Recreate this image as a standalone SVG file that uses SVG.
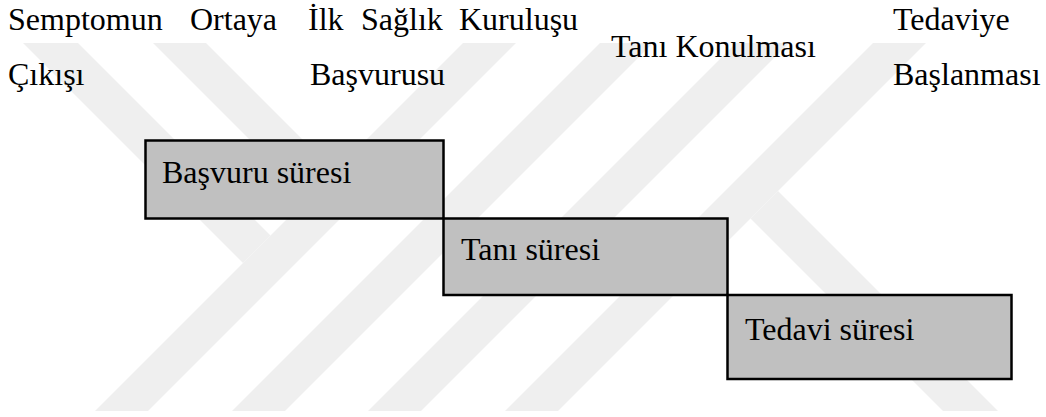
<svg xmlns="http://www.w3.org/2000/svg" width="1046" height="417" viewBox="0 0 1046 417">
<style>
.t{font-family:"Liberation Serif","Times New Roman",serif;font-size:32px;fill:#000}
.box{fill:#c0c0c0;stroke:#000;stroke-width:2.5}
.wm{fill:#efefef}
</style>
<rect width="1046" height="417" fill="#fff"/>
<g id="watermark">
<polygon class="wm" points="95,411 148,411 516,43 463,43"/>
<polygon class="wm" points="232,411 285,411 653,43 600,43"/>
<polygon class="wm" points="368,411 421,411 789,43 736,43"/>
<polygon class="wm" points="505,411 558,411 926,43 873,43"/>
<polygon class="wm" points="23,43 78,43 270.5,235.5 243,263"/>
<polygon class="wm" points="153,43 206,43 334.5,171.5 308,198"/>
<polygon class="wm" points="750.5,218.5 778,191 998,411 943,411"/>
</g>
<g id="connectors"></g>
<g font-family="Liberation Serif, Times New Roman, serif">
<g id="event-semptom">
<text class="t" x="8" y="30">Semptomun</text>
<text class="t" x="190" y="30">Ortaya</text>
<text class="t" x="8" y="85">Çıkışı</text>
</g>
<g id="event-basvuru">
<text class="t" x="308" y="30">İlk</text>
<text class="t" x="361" y="30">Sağlık</text>
<text class="t" x="459" y="30">Kuruluşu</text>
<text class="t" x="310" y="85">Başvurusu</text>
</g>
<g id="event-tani">
<text class="t" x="611" y="57">Tanı Konulması</text>
</g>
<g id="event-tedavi">
<text class="t" x="893" y="30">Tedaviye</text>
<text class="t" x="893" y="85">Başlanması</text>
</g>
<g id="box-basvuru-suresi">
<rect class="box" x="145.5" y="140.5" width="298" height="78"/>
<text class="t" x="162" y="183">Başvuru süresi</text>
</g>
<g id="box-tani-suresi">
<rect class="box" x="443.5" y="218.5" width="284" height="76.5"/>
<text class="t" x="461" y="260">Tanı süresi</text>
</g>
<g id="box-tedavi-suresi">
<rect class="box" x="727.5" y="295" width="284" height="84"/>
<text class="t" x="745" y="340">Tedavi süresi</text>
</g>
</g>
</svg>
